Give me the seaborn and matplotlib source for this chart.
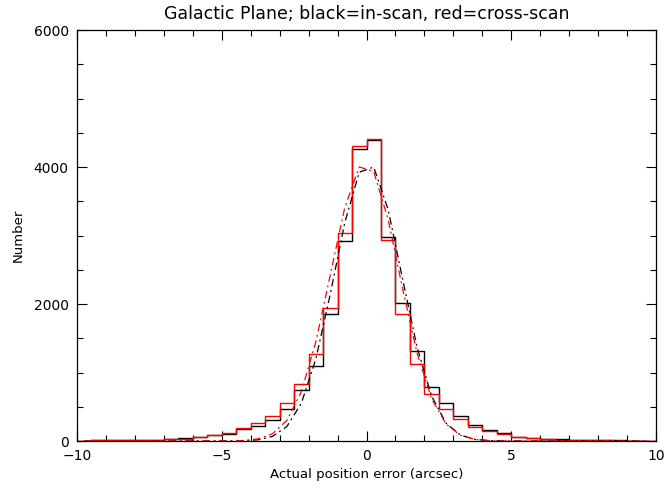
import numpy as np
import pandas as pd
import matplotlib
matplotlib.use("Agg")
import matplotlib.pyplot as plt
from matplotlib.ticker import MultipleLocator
import seaborn as sns

# histogram bins (arcsec), 0.5 wide from -10 to 10
bin_edges = np.arange(-10.0, 10.01, 0.5)
bin_centers = (bin_edges[:-1] + bin_edges[1:]) / 2

# counts per bin
inscan_counts = [5, 15, 15, 18, 20, 18, 34, 38, 58, 83,
                 107, 170, 219, 307, 472, 745, 1095, 1850, 2917, 4270,
                 4400, 2975, 2010, 1320, 790, 550, 360, 235, 160, 112,
                 63, 40, 30, 22, 18, 12, 10, 8, 5, 4]
crossscan_counts = [3, 8, 12, 15, 20, 15, 30, 34, 62, 86,
                    117, 185, 267, 360, 560, 827, 1265, 1940, 3035, 4305,
                    4410, 2930, 1860, 1130, 690, 470, 320, 210, 145, 100,
                    60, 40, 28, 20, 15, 12, 8, 6, 5, 3]

# gaussian fits at bin centres (dash-dot curves)
inscan_fit = [0, 0, 0, 0, 0, 0, 0, 0, 0, 0,
              1, 4, 17, 67, 211, 552, 1196, 2146, 3189, 3924,
              3999, 3375, 2358, 1364, 654, 259, 85, 23, 5, 1,
              0, 0, 0, 0, 0, 0, 0, 0, 0, 0]
crossscan_fit = [0, 0, 0, 0, 0, 0, 0, 0, 0, 0,
                 2, 7, 31, 105, 300, 721, 1447, 2428, 3408, 4002,
                 3932, 3231, 2220, 1277, 614, 247, 83, 23, 6, 1,
                 0, 0, 0, 0, 0, 0, 0, 0, 0, 0]

df = pd.DataFrame({
    "err": bin_centers,
    "inscan": inscan_counts,
    "crossscan": crossscan_counts,
    "inscan_fit": inscan_fit,
    "crossscan_fit": crossscan_fit,
})

sns.set_style("ticks")
plt.rcParams["font.family"] = ["DejaVu Sans"]
plt.rcParams["text.color"] = "black"
plt.rcParams["axes.labelcolor"] = "black"

fig = plt.figure(figsize=(6.64, 4.90), dpi=100)
ax = fig.add_axes([77 / 664, 1 - 441 / 490, (656 - 77) / 664, (441 - 30) / 490])

sns.histplot(data=df, x="err", weights="inscan", binwidth=0.5, binrange=(-10, 10),
             element="step", fill=False, color="black", linewidth=1.0, ax=ax)
sns.histplot(data=df, x="err", weights="crossscan", binwidth=0.5, binrange=(-10, 10),
             element="step", fill=False, color="red", linewidth=1.0, ax=ax)

dashdot = (6, 3, 1.5, 3)
sns.lineplot(data=df, x="err", y="inscan_fit", color="black", linewidth=0.9, ax=ax)
ax.lines[-1].set_dashes(dashdot)
sns.lineplot(data=df, x="err", y="crossscan_fit", color="red", linewidth=0.9, ax=ax)
ax.lines[-1].set_dashes(dashdot)

ax.set_xlim(-10, 10)
ax.set_ylim(0, 6000)
ax.xaxis.set_major_locator(MultipleLocator(5))
ax.xaxis.set_minor_locator(MultipleLocator(1))
ax.yaxis.set_major_locator(MultipleLocator(2000))
ax.yaxis.set_minor_locator(MultipleLocator(500))
ax.tick_params(which="both", direction="in", top=True, right=True,
               colors="black", labelsize=10, width=0.8)
ax.tick_params(which="major", length=7, pad=6)
ax.tick_params(which="minor", length=4)
for sp in ax.spines.values():
    sp.set_linewidth(0.9)
    sp.set_color("black")

ax.set_title("Galactic Plane; black=in-scan, red=cross-scan", fontsize=12.5, pad=8)
ax.set_xlabel("Actual position error (arcsec)", fontsize=9.5, labelpad=3)
ax.set_ylabel("Number", fontsize=9.5, labelpad=6)

fig.savefig("out.png", dpi=100)
